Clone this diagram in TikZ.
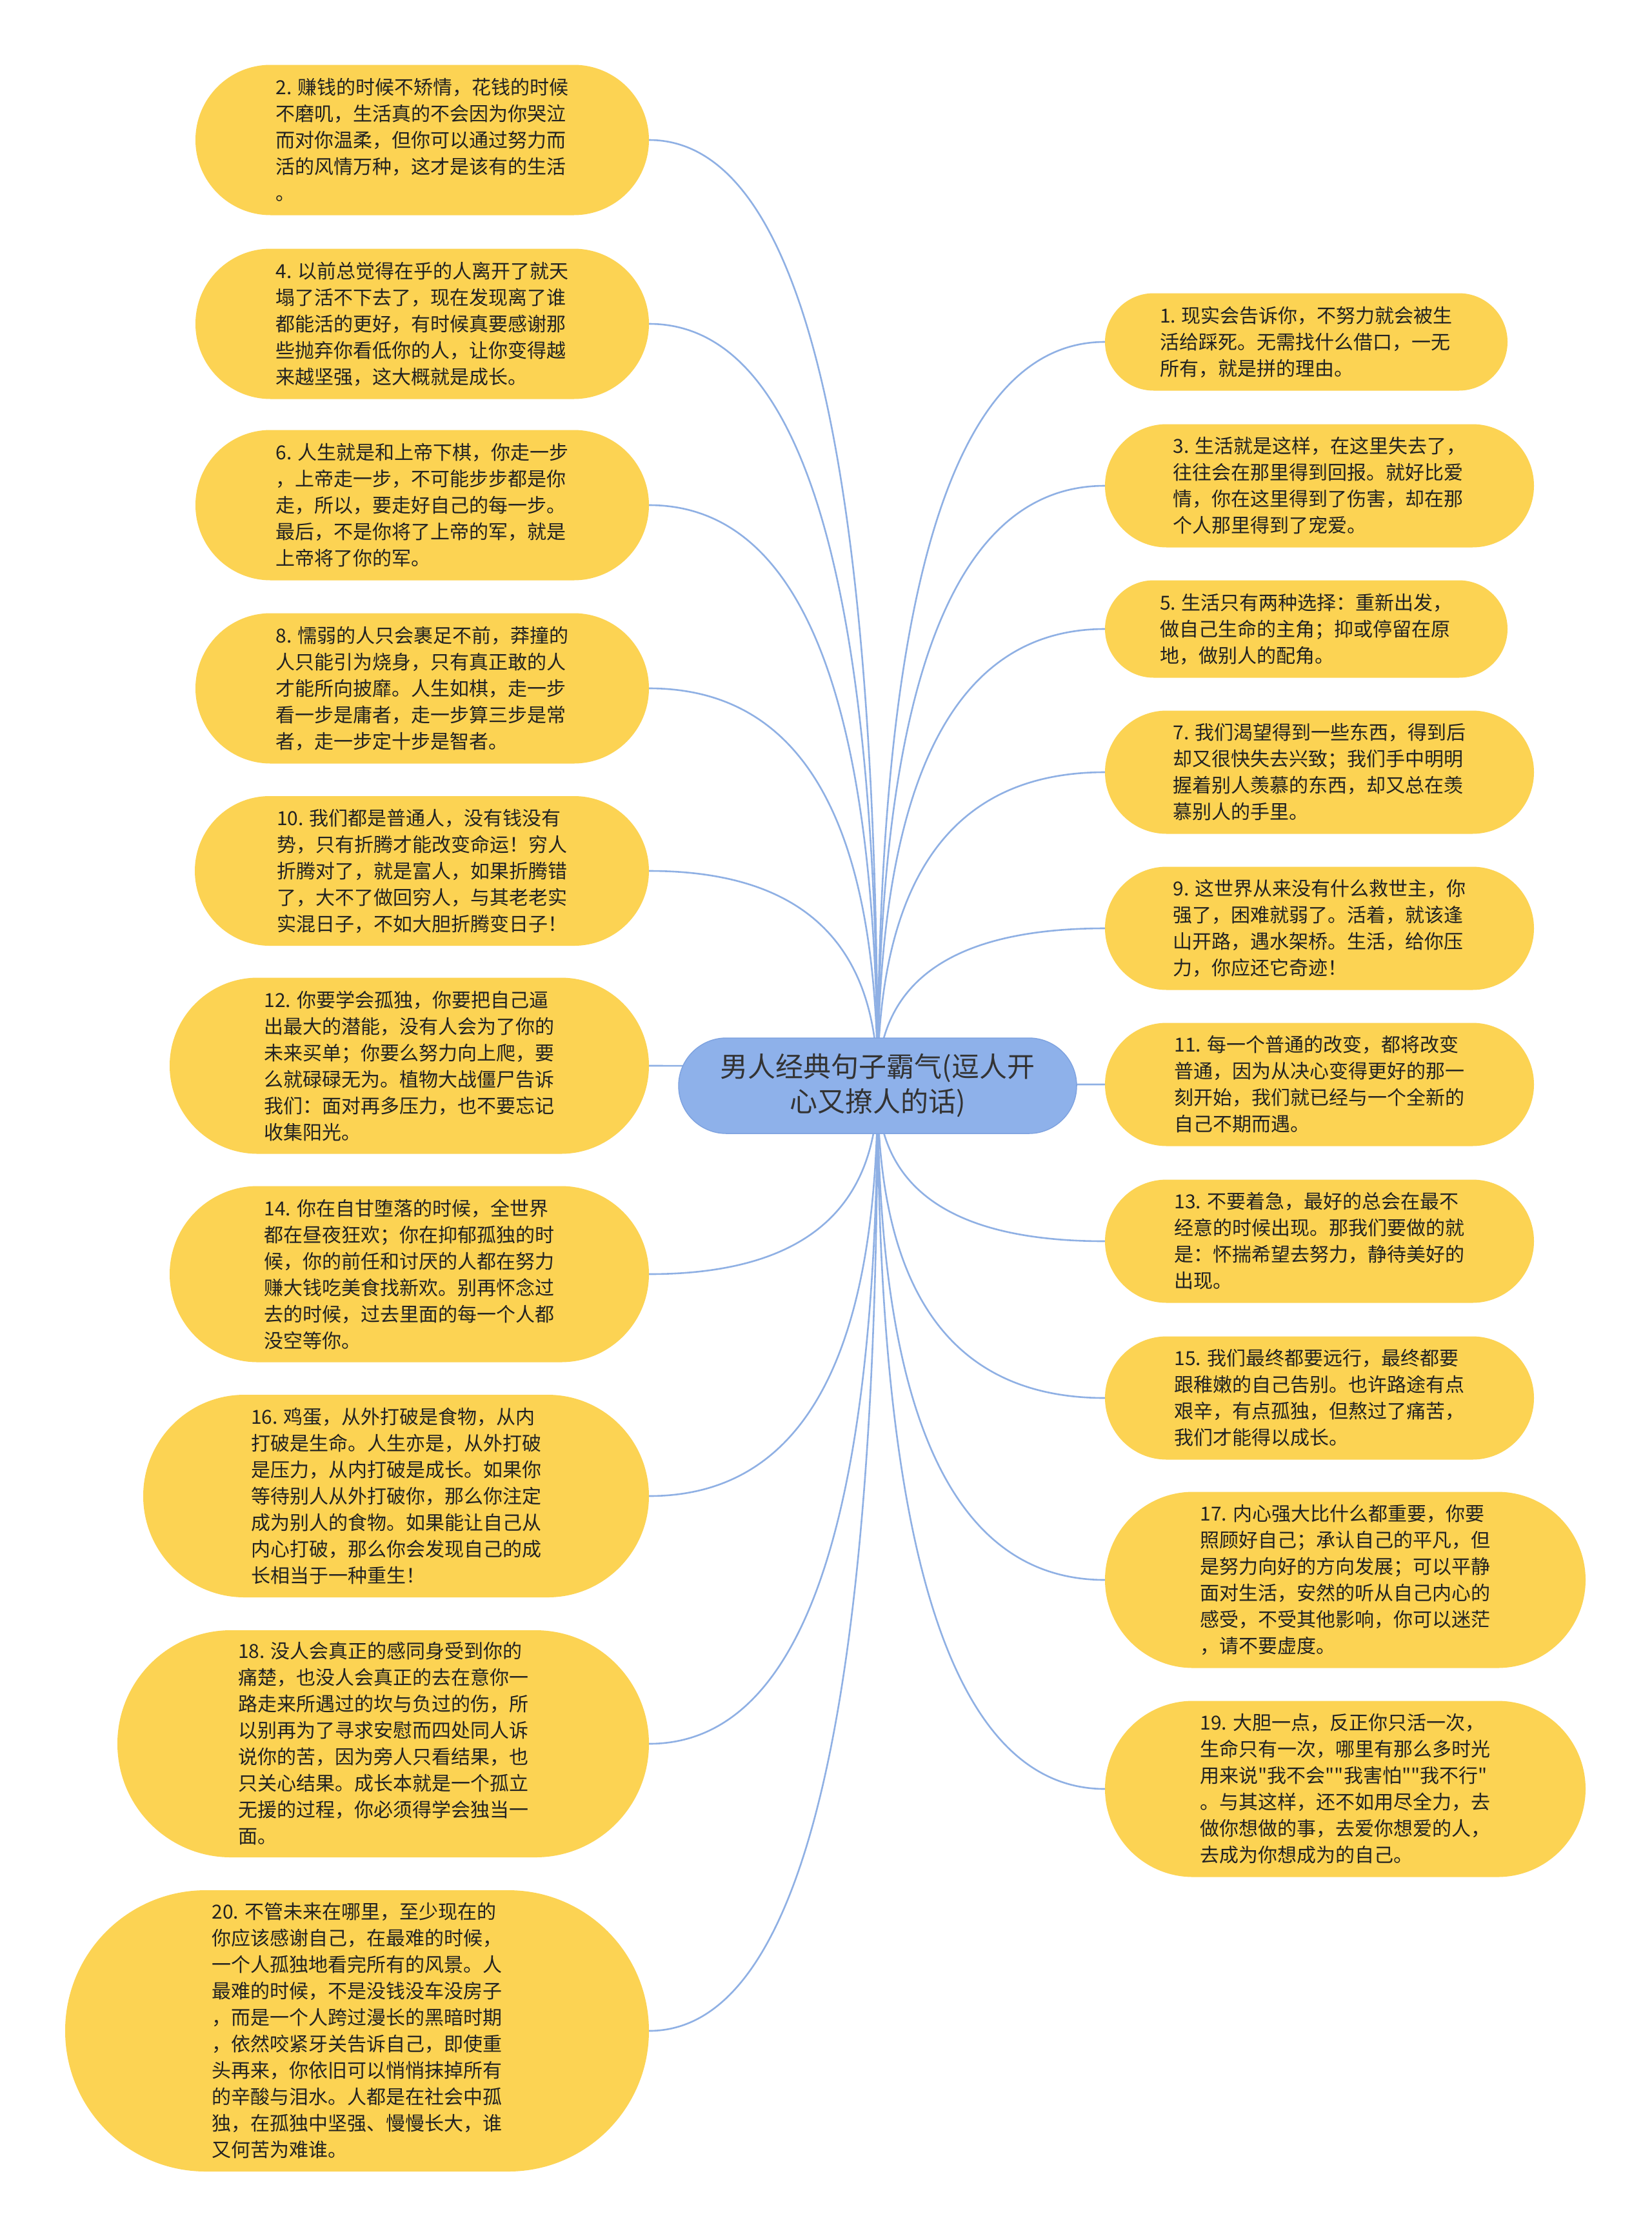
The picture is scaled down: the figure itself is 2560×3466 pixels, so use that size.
\documentclass[tikz,border=0pt]{standalone}
\usepackage{fontspec}
\setmainfont{Noto Sans CJK SC}[Ligatures=TeXOff]
\usetikzlibrary{calc,backgrounds}
\definecolor{leafc}{HTML}{FCD353}
\definecolor{rootc}{HTML}{8EB1EA}
\definecolor{rootb}{HTML}{7FA3E0}
\definecolor{edgec}{HTML}{8FB0E4}
\definecolor{txt}{HTML}{222222}
\definecolor{roottxt}{HTML}{333333}
\newcommand\leaffont{\fontsize{30}{41}\selectfont}
\newcommand\rootfont{\fontsize{43}{54}\selectfont}
\newcommand\mmlink[2]{\draw[edgeline] (#1) .. controls ($(#1)!0.667!(#1 |- #2)$) and ($(#2)!0.667!(#1 |- #2)$) .. (#2);}
\begin{document}
\begin{tikzpicture}[x=1pt,y=-1pt,
  leaf/.style={fill=leafc, draw=none, align=left, text=txt, font=\leaffont, inner sep=0pt},
  rootnode/.style={fill=rootc, draw=rootb, line width=1.5pt, align=center, text=roottxt, font=\rootfont, inner sep=0pt},
  edgeline/.style={draw=edgec, line width=2.6pt}]
\useasboundingbox (0,0) rectangle (2560,3466);

\node[rootnode, minimum width=617pt, minimum height=148pt, rounded corners=74pt] (root) at (1360.5,1683) {男人经典句子霸气(逗人开\\心又撩人的话)};

% left column
\node[leaf, minimum width=703pt, minimum height=233pt, rounded corners=116.5pt] (L2) at (654.5,217) {2. 赚钱的时候不矫情，花钱的时候\\不磨叽，生活真的不会因为你哭泣\\而对你温柔，但你可以通过努力而\\活的风情万种，这才是该有的生活\\。};
\node[leaf, minimum width=703pt, minimum height=233pt, rounded corners=116.5pt] (L4) at (654.5,502) {4. 以前总觉得在乎的人离开了就天\\塌了活不下去了，现在发现离了谁\\都能活的更好，有时候真要感谢那\\些抛弃你看低你的人，让你变得越\\来越坚强，这大概就是成长。};
\node[leaf, minimum width=703pt, minimum height=233pt, rounded corners=116.5pt] (L6) at (654.5,783) {6. 人生就是和上帝下棋，你走一步\\，上帝走一步，不可能步步都是你\\走，所以，要走好自己的每一步。\\最后，不是你将了上帝的军，就是\\上帝将了你的军。};
\node[leaf, minimum width=703pt, minimum height=233pt, rounded corners=116.5pt] (L8) at (654.5,1067) {8. 懦弱的人只会裹足不前，莽撞的\\人只能引为烧身，只有真正敢的人\\才能所向披靡。人生如棋，走一步\\看一步是庸者，走一步算三步是常\\者，走一步定十步是智者。};
\node[leaf, minimum width=704pt, minimum height=232pt, rounded corners=116pt] (L10) at (654,1350) {10. 我们都是普通人，没有钱没有\\势，只有折腾才能改变命运！穷人\\折腾对了，就是富人，如果折腾错\\了，大不了做回穷人，与其老老实\\实混日子，不如大胆折腾变日子！};
\node[leaf, minimum width=743pt, minimum height=273pt, rounded corners=136.5pt] (L12) at (634.5,1652) {12. 你要学会孤独，你要把自己逼\\出最大的潜能，没有人会为了你的\\未来买单；你要么努力向上爬，要\\么就碌碌无为。植物大战僵尸告诉\\我们：面对再多压力，也不要忘记\\收集阳光。};
\node[leaf, minimum width=743pt, minimum height=273pt, rounded corners=136.5pt] (L14) at (634.5,1975) {14. 你在自甘堕落的时候，全世界\\都在昼夜狂欢；你在抑郁孤独的时\\候，你的前任和讨厌的人都在努力\\赚大钱吃美食找新欢。别再怀念过\\去的时候，过去里面的每一个人都\\没空等你。};
\node[leaf, minimum width=784pt, minimum height=314pt, rounded corners=157pt] (L16) at (614,2319) {16. 鸡蛋，从外打破是食物，从内\\打破是生命。人生亦是，从外打破\\是压力，从内打破是成长。如果你\\等待别人从外打破你，那么你注定\\成为别人的食物。如果能让自己从\\内心打破，那么你会发现自己的成\\长相当于一种重生！};
\node[leaf, minimum width=824pt, minimum height=352pt, rounded corners=176pt] (L18) at (594,2703) {18. 没人会真正的感同身受到你的\\痛楚，也没人会真正的去在意你一\\路走来所遇过的坎与负过的伤，所\\以别再为了寻求安慰而四处同人诉\\说你的苦，因为旁人只看结果，也\\只关心结果。成长本就是一个孤立\\无援的过程，你必须得学会独当一\\面。};
\node[leaf, minimum width=905pt, minimum height=436pt, rounded corners=218pt] (L20) at (553.5,3148) {20. 不管未来在哪里，至少现在的\\你应该感谢自己，在最难的时候，\\一个人孤独地看完所有的风景。人\\最难的时候，不是没钱没车没房子\\，而是一个人跨过漫长的黑暗时期\\，依然咬紧牙关告诉自己，即使重\\头再来，你依旧可以悄悄抹掉所有\\的辛酸与泪水。人都是在社会中孤\\独，在孤独中坚强、慢慢长大，谁\\又何苦为难谁。};

% right column
\node[leaf, minimum width=624pt, minimum height=151pt, rounded corners=75.5pt] (R1) at (2025,530) {1. 现实会告诉你，不努力就会被生\\活给踩死。无需找什么借口，一无\\所有，就是拼的理由。};
\node[leaf, minimum width=665pt, minimum height=191pt, rounded corners=95.5pt] (R3) at (2045.5,753) {3. 生活就是这样，在这里失去了，\\往往会在那里得到回报。就好比爱\\情，你在这里得到了伤害，却在那\\个人那里得到了宠爱。};
\node[leaf, minimum width=624pt, minimum height=151pt, rounded corners=75.5pt] (R5) at (2025,975) {5. 生活只有两种选择：重新出发，\\做自己生命的主角；抑或停留在原\\地，做别人的配角。};
\node[leaf, minimum width=665pt, minimum height=191pt, rounded corners=95.5pt] (R7) at (2045.5,1197) {7. 我们渴望得到一些东西，得到后\\却又很快失去兴致；我们手中明明\\握着别人羡慕的东西，却又总在羡\\慕别人的手里。};
\node[leaf, minimum width=665pt, minimum height=191pt, rounded corners=95.5pt] (R9) at (2045.5,1439) {9. 这世界从来没有什么救世主，你\\强了，困难就弱了。活着，就该逢\\山开路，遇水架桥。生活，给你压\\力，你应还它奇迹！};
\node[leaf, minimum width=665pt, minimum height=191pt, rounded corners=95.5pt] (R11) at (2045.5,1681) {11. 每一个普通的改变，都将改变\\普通，因为从决心变得更好的那一\\刻开始，我们就已经与一个全新的\\自己不期而遇。};
\node[leaf, minimum width=665pt, minimum height=191pt, rounded corners=95.5pt] (R13) at (2045.5,1924) {13. 不要着急，最好的总会在最不\\经意的时候出现。那我们要做的就\\是：怀揣希望去努力，静待美好的\\出现。};
\node[leaf, minimum width=665pt, minimum height=191pt, rounded corners=95.5pt] (R15) at (2045.5,2167) {15. 我们最终都要远行，最终都要\\跟稚嫩的自己告别。也许路途有点\\艰辛，有点孤独，但熬过了痛苦，\\我们才能得以成长。};
\node[leaf, minimum width=745pt, minimum height=273pt, rounded corners=136.5pt] (R17) at (2085.5,2449) {17. 内心强大比什么都重要，你要\\照顾好自己；承认自己的平凡，但\\是努力向好的方向发展；可以平静\\面对生活，安然的听从自己内心的\\感受，不受其他影响，你可以迷茫\\，请不要虚度。};
\node[leaf, minimum width=745pt, minimum height=273pt, rounded corners=136.5pt] (R19) at (2085.5,2773) {19. 大胆一点，反正你只活一次，\\生命只有一次，哪里有那么多时光\\用来说"我不会""我害怕""我不行"\\。与其这样，还不如用尽全力，去\\做你想做的事，去爱你想爱的人，\\去成为你想成为的自己。};

\begin{scope}[on background layer]
\fill[white] (0,0) rectangle (2560,3466);
\foreach \n in {L2,L4,L6,L8,L10,L12,L14,L16,L18,L20} {\mmlink{root.center}{\n.east}}
\foreach \n in {R1,R3,R5,R7,R9,R11,R13,R15,R17,R19} {\mmlink{root.center}{\n.west}}
\end{scope}
\end{tikzpicture}
\end{document}
